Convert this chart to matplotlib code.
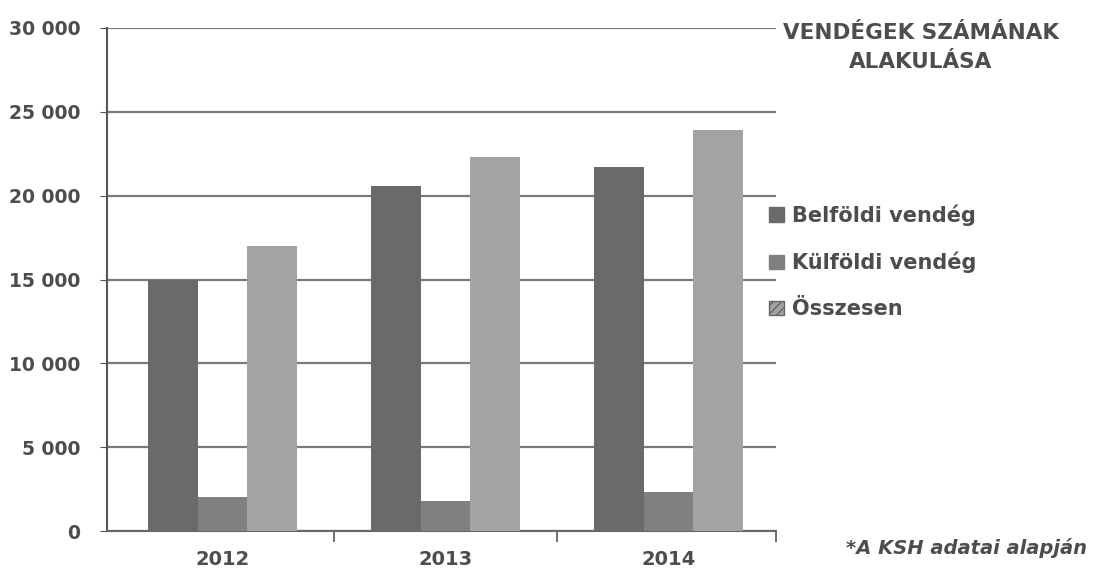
import numpy as np
import matplotlib.pyplot as plt
from matplotlib.patches import Patch

years = ["2012", "2013", "2014"]
belfoldi = [15000, 20600, 21700]
kulfoldi = [2000, 1800, 2300]
osszesen = [17000, 22300, 23900]
series_names = ["Belföldi vendég", "Külföldi vendég", "Összesen"]
colors = ["#6a6a6a", "#808080", "#a3a3a3"]
y_ticks = [0, 5000, 10000, 15000, 20000, 25000, 30000]

txt = "#4d4d4d"

fig = plt.figure(figsize=(11, 5.71), dpi=100)
ax = fig.add_axes([0.097, 0.070, 0.608, 0.881])

x = np.arange(len(years))
w = 0.222
for i, (vals, c) in enumerate(zip([belfoldi, kulfoldi, osszesen], colors)):
    ax.bar(x + (i - 1) * w, vals, width=w, color=c, zorder=3)

ax.set_xlim(-0.52, 2.48)
ax.set_ylim(0, 30000)
ax.set_yticks(y_ticks)
ax.set_yticklabels([f"{v:,}".replace(",", " ") for v in y_ticks],
                   fontsize=13.5, fontweight="bold", color=txt)
ax.yaxis.grid(True, color="#7a7a7a", linewidth=1.6, zorder=0)
ax.set_xticks(x)
ax.set_xticklabels(years, fontsize=14, fontweight="bold", color=txt)
ax.tick_params(axis="x", length=0, pad=14)
ax.tick_params(axis="y", length=5, color="#555555", pad=14)
ax.set_xticks([0.5, 1.5, 2.48], minor=True)
ax.tick_params(axis="x", which="minor", length=8, color="#555555", width=1.2)

for s in ["top", "right"]:
    ax.spines[s].set_visible(False)
ax.spines["left"].set_color("#555555")
ax.spines["left"].set_linewidth(1.5)
ax.spines["bottom"].set_color("#666666")
ax.spines["bottom"].set_linewidth(1.5)

fig.text(0.837, 0.96, "VENDÉGEK SZÁMÁNAK\nALAKULÁSA", ha="center", va="top",
         fontsize=15.5, fontweight="bold", color=txt, linespacing=1.6)

handles = [Patch(facecolor=c, edgecolor=c) for c in colors]
handles[2] = Patch(facecolor=colors[2], edgecolor="#666666", hatch="////")
fig.legend(handles, series_names, loc="upper left", bbox_to_anchor=(0.682, 0.675),
           frameon=False, prop={"size": 15, "weight": "bold"}, labelcolor=txt,
           handlelength=0.7, handleheight=0.7, handletextpad=0.4, labelspacing=1.25)

fig.text(0.988, 0.022, "*A KSH adatai alapján", ha="right", va="bottom",
         fontsize=14, fontweight="bold", fontstyle="italic", color=txt)

fig.savefig("out.png", dpi=100)
